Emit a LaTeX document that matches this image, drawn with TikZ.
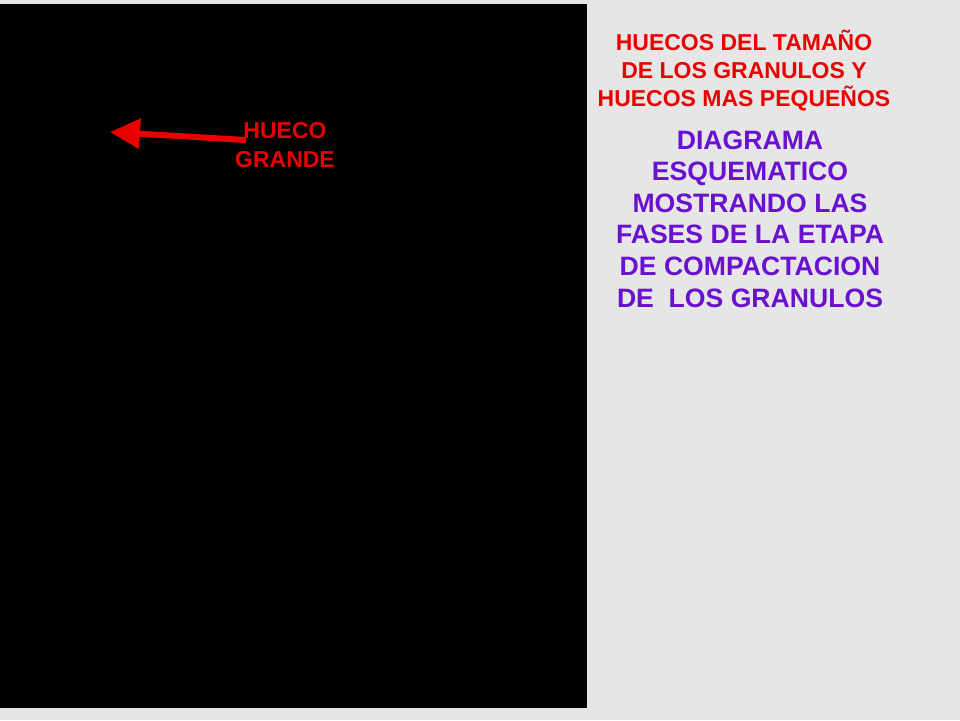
\documentclass[tikz,border=0pt]{standalone}
\usepackage{fontspec}
\setmainfont{Liberation Sans}
\usetikzlibrary{arrows.meta}
\definecolor{bggray}{RGB}{230,230,230}
\definecolor{slidered}{RGB}{235,0,0}
\definecolor{slidepurple}{RGB}{106,16,208}
\tikzset{
  redlabel/.style={text=slidered, font=\bfseries, align=center, inner sep=0pt},
  purplelabel/.style={text=slidepurple, font=\bfseries, align=center, inner sep=0pt},
  redarrow/.style={draw=slidered, line width=6pt, -{Triangle[length=30pt,width=29pt]}}
}
\begin{document}
\begin{tikzpicture}[x=1pt,y=-1pt]
  \fill[bggray] (0,0) rectangle (960,720);
  \useasboundingbox (0,0) rectangle (960,720);
  \fill[black] (0,4) rectangle (587,708);
  \node[redlabel, font=\bfseries\fontsize{23}{28}\selectfont] (top) at (744,70.5)
    {HUECOS DEL TAMAÑO\\DE LOS GRANULOS Y\\HUECOS MAS PEQUEÑOS};
  \node[purplelabel, font=\bfseries\fontsize{26.6}{31.6}\selectfont] (diag) at (750,219)
    {DIAGRAMA\\ESQUEMATICO\\MOSTRANDO LAS\\FASES DE LA ETAPA\\DE COMPACTACION\\DE\ \ LOS GRANULOS};
  \node[redlabel, font=\bfseries\fontsize{23}{29}\selectfont] (hueco) at (285,145)
    {HUECO\\GRANDE};
  \coordinate (astart) at (246,140);
  \coordinate (atip) at (110,132);
  \draw[redarrow] (astart) -- (atip);
\end{tikzpicture}
\end{document}
